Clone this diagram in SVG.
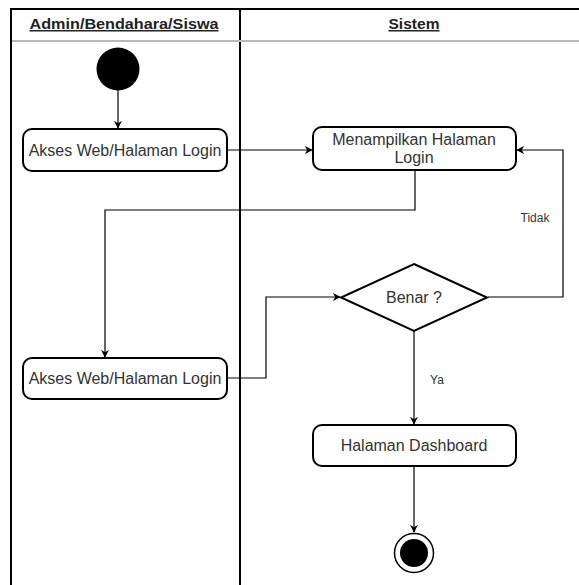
<svg xmlns="http://www.w3.org/2000/svg" width="579" height="585" viewBox="0 0 579 585">
  <style>
    .lane { fill: none; stroke: #000; stroke-width: 2; }
    .sep { stroke: #b8b8b8; stroke-width: 2; }
    .head { font-family: "Liberation Sans", Arial, sans-serif; font-size: 15px; font-weight: bold; fill: #222; text-anchor: middle; text-decoration: underline; }
    .act { fill: #fff; stroke: #000; stroke-width: 2; }
    .txt { font-family: "Liberation Sans", Arial, sans-serif; font-size: 16px; fill: #333; text-anchor: middle; }
    .lbl { font-family: "Liberation Sans", Arial, sans-serif; font-size: 12px; fill: #333; text-anchor: middle; }
    .edge { fill: none; stroke: #000; stroke-width: 1.2; }
  </style>
  <defs>
    <marker id="arrow" viewBox="0 0 10 10" refX="9" refY="5" markerWidth="8" markerHeight="8" markerUnits="userSpaceOnUse" orient="auto">
      <path d="M0,0 L10,5 L0,10 L3,5 Z" fill="#000"/>
    </marker>
  </defs>
  <rect width="579" height="585" fill="#fff"/>

  <!-- swimlanes -->
  <g id="lanes">
    <path class="lane" d="M11,586 V9 H580"/>
    <line class="lane" x1="240" y1="9" x2="240" y2="586"/>
    <line class="sep" x1="12" y1="41" x2="579" y2="41"/>
    <text class="head" x="124" y="29" textLength="189" lengthAdjust="spacingAndGlyphs">Admin/Bendahara/Siswa</text>
    <text class="head" x="414" y="29" textLength="51" lengthAdjust="spacingAndGlyphs">Sistem</text>
  </g>

  <!-- connectors -->
  <g id="connectors">
    <line class="edge" x1="118" y1="90" x2="118" y2="128" marker-end="url(#arrow)"/>
    <line class="edge" x1="227" y1="150" x2="312" y2="150" marker-end="url(#arrow)"/>
    <polyline class="edge" points="415,170 415,210 105,210 105,357" marker-end="url(#arrow)"/>
    <polyline class="edge" points="227,378 266,378 266,297 340,297" marker-end="url(#arrow)"/>
    <polyline class="edge" points="488,297 563,297 563,150 517,150" marker-end="url(#arrow)"/>
    <text class="lbl" x="535" y="222">Tidak</text>
    <line class="edge" x1="414" y1="331" x2="414" y2="424" marker-end="url(#arrow)"/>
    <text class="lbl" x="437" y="384">Ya</text>
    <line class="edge" x1="414" y1="466" x2="414" y2="532" marker-end="url(#arrow)"/>
  </g>

  <g id="start">
    <circle cx="118" cy="69" r="21.5" fill="#000"/>
  </g>

  <g id="akses-web-1">
    <rect class="act" x="23" y="129" width="204" height="42" rx="9"/>
    <text class="txt" x="125" y="156">Akses Web/Halaman Login</text>
  </g>

  <g id="tampil-login">
    <rect class="act" x="313" y="127" width="203" height="43" rx="9"/>
    <text class="txt" x="414" y="145">Menampilkan Halaman</text>
    <text class="txt" x="414" y="163">Login</text>
  </g>

  <g id="akses-web-2">
    <rect class="act" x="23" y="358" width="204" height="41" rx="9"/>
    <text class="txt" x="125" y="384">Akses Web/Halaman Login</text>
  </g>

  <g id="cek-benar">
    <polygon class="act" points="414,264 487,297.5 414,331 341,297.5"/>
    <text class="txt" x="414" y="303">Benar ?</text>
  </g>

  <g id="dashboard">
    <rect class="act" x="313" y="425" width="203" height="41" rx="9"/>
    <text class="txt" x="414" y="451">Halaman Dashboard</text>
  </g>

  <g id="end">
    <circle cx="414" cy="553" r="19.5" fill="#fff" stroke="#000" stroke-width="1.5"/>
    <circle cx="414" cy="553" r="14" fill="#000"/>
  </g>
</svg>
